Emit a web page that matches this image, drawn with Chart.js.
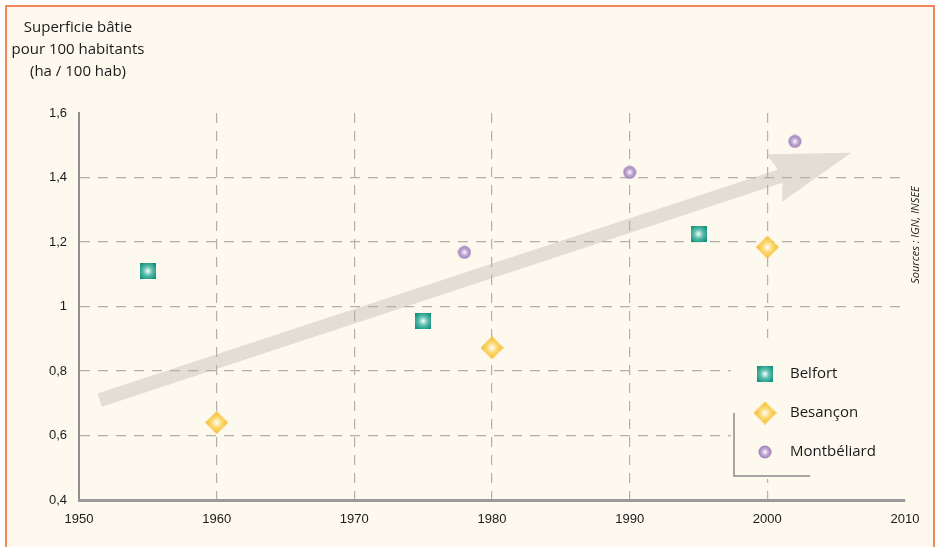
<!DOCTYPE html>
<html>
<head>
<meta charset="utf-8">
<script src="https://cdn.jsdelivr.net/npm/chart.js@4"></script>
<style>
  body { margin: 0; background: #ffffff; }
  canvas { display: block; }
</style>
</head>
<body>
<canvas id="chart" width="939" height="547"></canvas>
<script>
// Data
const belfortYears = [1955, 1975, 1995];
const belfortValues = [1.11, 0.955, 1.225];
const besanconYears = [1960, 1980, 2000];
const besanconValues = [0.64, 0.872, 1.184];
const montbeliardYears = [1978, 1990, 2002];
const montbeliardValues = [1.168, 1.416, 1.512];

const seriesNames = ['Belfort', 'Besançon', 'Montbéliard'];
const xTickLabels = ['1950', '1960', '1970', '1980', '1990', '2000', '2010'];
const yTickLabels = ['0,4', '0,6', '0,8', '1', '1,2', '1,4', '1,6'];
const titleLines = ['Superficie bâtie', 'pour 100 habitants', '(ha / 100 hab)'];
const sourceText = 'Sources : IGN, INSEE';

// trend arrow (x = year, y = value)
const arrowFrom = [1951.5, 0.71];
const arrowTo = [2006.1, 1.477];

const CREAM = '#fef9ee';
const TICK_FONT = '"Liberation Sans Narrow", "Liberation Sans", Arial, sans-serif';
const TEXT_FONT = '"Open Sans", "Noto Sans", sans-serif';

function makeMarker(shape, size, edge, mid) {
    const c = document.createElement('canvas');
    c.width = size;
    c.height = size;
    const g = c.getContext('2d');
    const r = size / 2;
    const grad = g.createRadialGradient(r, r, 0, r, r, r * (shape === 'square' ? 1.25 : 1));
    grad.addColorStop(0, '#ffffff');
    grad.addColorStop(0.45, mid);
    grad.addColorStop(1, edge);
    g.fillStyle = grad;
    g.beginPath();
    if (shape === 'square') {
        g.rect(0, 0, size, size);
    } else if (shape === 'diamond') {
        g.moveTo(r, 0);
        g.lineTo(size, r);
        g.lineTo(r, size);
        g.lineTo(0, r);
        g.closePath();
    } else {
        g.arc(r, r, r - 0.5, 0, Math.PI * 2);
    }
    g.fill();
    return c;
}

const markers = [
    makeMarker('square', 16, '#128f7b', '#5cbfae'),
    makeMarker('diamond', 23, '#f4b82c', '#fcd870'),
    makeMarker('circle', 14, '#9576b2', '#c2abd5')
];

function toPoints(xs, ys) {
    return xs.map((x, i) => ({ x: x, y: ys[i] }));
}

const backgroundPlugin = {
    id: 'backgroundPlugin',
    beforeDraw(chart) {
        const ctx = chart.ctx;
        const xs = chart.scales.x, ys = chart.scales.y;
        ctx.save();
        ctx.fillStyle = '#ffffff';
        ctx.fillRect(0, 0, chart.width, chart.height);
        ctx.fillStyle = CREAM;
        ctx.fillRect(7, 7, 926, chart.height - 7);
        ctx.strokeStyle = '#f0875a';
        ctx.lineWidth = 2;
        ctx.beginPath();
        ctx.moveTo(6, chart.height);
        ctx.lineTo(6, 6);
        ctx.lineTo(934, 6);
        ctx.lineTo(934, chart.height);
        ctx.stroke();

        // trend arrow
        const x0 = xs.getPixelForValue(arrowFrom[0]), y0 = ys.getPixelForValue(arrowFrom[1]);
        const x1 = xs.getPixelForValue(arrowTo[0]), y1 = ys.getPixelForValue(arrowTo[1]);
        const len = Math.hypot(x1 - x0, y1 - y0);
        const ux = (x1 - x0) / len, uy = (y1 - y0) / len;
        const nx = -uy, ny = ux;
        const headLen = 81, headHalf = 25, shaftHalf = 7;
        const bx = x1 - ux * headLen, by = y1 - uy * headLen;
        ctx.fillStyle = '#e2ded5';
        ctx.beginPath();
        ctx.moveTo(x0 + nx * shaftHalf, y0 + ny * shaftHalf);
        ctx.lineTo(bx + ux * 6 + nx * shaftHalf, by + uy * 6 + ny * shaftHalf);
        ctx.lineTo(bx + nx * headHalf, by + ny * headHalf);
        ctx.lineTo(x1, y1);
        ctx.lineTo(bx - nx * headHalf, by - ny * headHalf);
        ctx.lineTo(bx + ux * 6 - nx * shaftHalf, by + uy * 6 - ny * shaftHalf);
        ctx.lineTo(x0 - nx * shaftHalf, y0 - ny * shaftHalf);
        ctx.closePath();
        ctx.fill();
        ctx.restore();
    },
    afterDraw(chart) {
        const ctx = chart.ctx;
        ctx.save();
        // title
        ctx.fillStyle = '#1a1a1a';
        ctx.font = '15px ' + TEXT_FONT;
        ctx.textAlign = 'center';
        ctx.textBaseline = 'middle';
        titleLines.forEach((t, i) => ctx.fillText(t, 78, 28 + i * 22));

        // sources, rotated
        ctx.save();
        ctx.translate(916, 235);
        ctx.rotate(-Math.PI / 2);
        ctx.font = 'italic 11px ' + TEXT_FONT;
        ctx.fillText(sourceText, 0, 0);
        ctx.restore();

        // legend box
        ctx.fillStyle = CREAM;
        ctx.fillRect(731, 338, 176, 141);
        ctx.strokeStyle = '#8a8a8a';
        ctx.lineWidth = 1.5;
        ctx.beginPath();
        ctx.moveTo(734, 413);
        ctx.lineTo(734, 476);
        ctx.lineTo(810, 476);
        ctx.stroke();

        ctx.font = '15px ' + TEXT_FONT;
        ctx.textAlign = 'left';
        ctx.fillStyle = '#1a1a1a';
        seriesNames.forEach((name, i) => {
            const cy = 374 + i * 39;
            const m = markers[i];
            ctx.drawImage(m, 765 - m.width / 2, cy - m.height / 2);
            ctx.fillText(name, 790, cy);
        });
        ctx.restore();
    }
};

new Chart(document.getElementById('chart'), {
    type: 'scatter',
    data: {
        datasets: [
            { label: seriesNames[0], data: toPoints(belfortYears, belfortValues), pointStyle: markers[0] },
            { label: seriesNames[1], data: toPoints(besanconYears, besanconValues), pointStyle: markers[1] },
            { label: seriesNames[2], data: toPoints(montbeliardYears, montbeliardValues), pointStyle: markers[2] }
        ]
    },
    options: {
        responsive: false,
        animation: false,
        layout: { padding: { left: 0, top: 113, right: 34, bottom: 0 } },
        plugins: {
            legend: { display: false },
            tooltip: { enabled: false }
        },
        scales: {
            x: {
                type: 'linear',
                min: 1950,
                max: 2010,
                afterFit(scale) { scale.height = 47; },
                ticks: {
                    stepSize: 10,
                    padding: 12,
                    color: '#1a1a1a',
                    font: { family: TICK_FONT, size: 13 },
                    maxRotation: 0,
                    callback: (v) => xTickLabels[Math.round((v - 1950) / 10)]
                },
                grid: {
                    drawTicks: false,
                    lineWidth: 1.2,
                    color: (c) => (c.tick && c.tick.value > 1955 && c.tick.value < 2005) ? '#b3b0a8' : 'rgba(0,0,0,0)'
                },
                border: { display: true, color: '#9a9a9a', width: 3, dash: [10, 8] }
            },
            y: {
                min: 0.4,
                max: 1.6,
                afterFit(scale) { scale.width = 79; },
                ticks: {
                    stepSize: 0.2,
                    padding: 12,
                    color: '#1a1a1a',
                    font: { family: TICK_FONT, size: 13 },
                    callback: (v) => yTickLabels[Math.round((v - 0.4) / 0.2)]
                },
                grid: {
                    drawTicks: false,
                    lineWidth: 1.2,
                    color: (c) => (c.tick && c.tick.value > 0.5 && c.tick.value < 1.5) ? '#b3b0a8' : 'rgba(0,0,0,0)'
                },
                border: { display: true, color: '#8e8e8e', width: 2, dash: [10, 8] }
            }
        }
    },
    plugins: [backgroundPlugin]
});
</script>
</body>
</html>
